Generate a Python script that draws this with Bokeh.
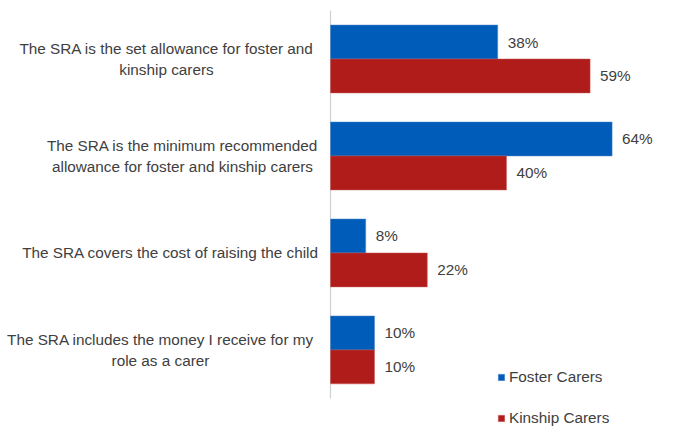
from bokeh.plotting import figure
from bokeh.models import Range1d, Legend, LegendItem, ColumnDataSource
from bokeh.core.properties import value
from bokeh.embed import file_html
from bokeh.resources import INLINE

categories = [
    "The SRA is the set allowance for foster and\nkinship carers",
    "The SRA is the minimum recommended\nallowance for foster and kinship carers",
    "The SRA covers the cost of raising the child",
    "The SRA includes the money I receive for my\nrole as a carer",
]
foster = [38, 64, 8, 10]
kinship = [59, 40, 22, 10]
series_names = ["Foster Carers", "Kinship Carers"]

BLUE = "#005CB9"
RED = "#AF1C1A"
TEXT = "#404040"
FONT = "Liberation Sans"
FSIZE = "15.3px"

# layout: axis line sits 330px from the left, 4.4px per percent
AXIS_PX = 330
PX_PER_PCT = 4.4
FRAME_W = 665
# wrapped labels are centred in their box, box centres in px left of the axis
label_offsets = [-164, -148, -160, -170]

n = len(categories)
p = figure(width=677, height=427, output_backend="svg", toolbar_location=None,
           x_range=Range1d(-AXIS_PX / PX_PER_PCT, (FRAME_W - AXIS_PX) / PX_PER_PCT),
           y_range=Range1d(4.3, 0),
           min_border_left=0, min_border_right=677 - FRAME_W,
           min_border_top=10, min_border_bottom=0)
p.outline_line_color = None
p.xgrid.visible = False
p.ygrid.visible = False
p.xaxis.visible = False
p.yaxis.visible = False

ys = [i + 0.5 for i in range(n)]

# axis line only over the category area
p.segment(x0=[0], y0=[0], x1=[0], y1=[n], line_color="#D0D0D0", line_width=1.2)

p.text(x=[o / PX_PER_PCT for o in label_offsets], y=ys, text=categories,
       text_align="center", text_baseline="middle", text_color=TEXT,
       text_font=value(FONT), text_font_size=FSIZE, text_line_height=1.2)

src = ColumnDataSource(dict(
    yf=[y - 0.175 for y in ys], yk=[y + 0.175 for y in ys],
    foster=foster, kinship=kinship,
    flab=[f"{v}%" for v in foster], klab=[f"{v}%" for v in kinship],
))

rf = p.hbar(y="yf", right="foster", left=0, height=0.35, source=src,
            fill_color=BLUE, line_color="#4A86C8", line_width=0.5)
rk = p.hbar(y="yk", right="kinship", left=0, height=0.35, source=src,
            fill_color=RED, line_color="#C85A5A", line_width=0.5)

for col, ycol, xcol in (("flab", "yf", "foster"), ("klab", "yk", "kinship")):
    p.text(x=xcol, y=ycol, text=col, source=src, x_offset=10,
           text_baseline="middle", text_align="left", text_color=TEXT,
           text_font=value(FONT), text_font_size=FSIZE)

legend = Legend(items=[LegendItem(label=series_names[0], renderers=[rf]),
                       LegendItem(label=series_names[1], renderers=[rk])],
                location=(497, 0), orientation="vertical",
                glyph_width=8, glyph_height=8, label_height=15, spacing=23,
                padding=0, margin=0, label_standoff=4,
                border_line_color=None, background_fill_alpha=0,
                label_text_font=FONT, label_text_font_size=FSIZE,
                label_text_color=TEXT)
p.add_layout(legend, "center")

open("out.html", "w").write(file_html(p, INLINE))
